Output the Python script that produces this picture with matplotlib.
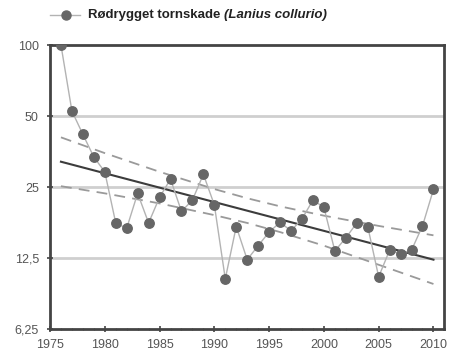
import matplotlib
matplotlib.use("Agg")
import matplotlib.pyplot as plt
from matplotlib.lines import Line2D
from matplotlib.ticker import FixedLocator, MultipleLocator

plt.rcParams["font.family"] = ["Liberation Sans", "DejaVu Sans"]

# ===============================
# Data
# ===============================
years = list(range(1976, 2011))
index = [100, 52.5, 41.8, 33.5, 29.0, 17.6, 16.7, 23.5, 17.6, 22.6,
         27.0, 19.7, 22.0, 28.3, 21.0, 10.2, 17.0, 12.3, 14.1, 16.1,
         17.7, 16.3, 18.3, 22.0, 20.5, 13.4, 15.2, 17.6, 17.0, 10.4,
         13.5, 13.0, 13.5, 17.1, 24.4]

trend_years = [1976, 2010]
trend_values = [32.0, 12.3]

band_years = [1976, 1980, 1985, 1990, 1993, 1996, 2000, 2005, 2010]
band_upper = [40.6, 34.8, 29.0, 24.5, 22.4, 20.7, 18.9, 17.1, 15.6]
band_lower = [25.2, 23.5, 21.3, 19.0, 17.6, 16.1, 14.1, 11.7, 9.7]

y_ticks = [6.25, 12.5, 25, 50, 100]
y_labels = ["6,25", "12,5", "25", "50", "100"]
x_ticks = [1975, 1980, 1985, 1990, 1995, 2000, 2005, 2010]

# ===============================
# Figure
# ===============================
fig = plt.figure(figsize=(4.52, 3.6), dpi=100)
ax = fig.add_axes([0.1106, 0.0861, 0.8714, 0.7889])

ax.set_yscale("log", base=2)
ax.set_ylim(6.25, 100)
ax.set_xlim(1975, 2010.95)

for v in [12.5, 25, 50]:
    ax.axhline(v, color="#cfcfcf", lw=2, zorder=1)

ax.plot(band_years, band_upper, color="#9a9a9a", lw=1.3, ls=(0, (6, 4)), zorder=2)
ax.plot(band_years, band_lower, color="#9a9a9a", lw=1.3, ls=(0, (6, 4)), zorder=2)
ax.plot(trend_years, trend_values, color="#3c3c3c", lw=1.5, zorder=3)

ax.plot(years, index, color="#b3b3b3", lw=1, marker="o", ms=6.8,
        mfc="#666666", mec="#666666", zorder=4)

ax.yaxis.set_major_locator(FixedLocator(y_ticks))
ax.yaxis.set_minor_locator(FixedLocator([]))
ax.set_yticklabels(y_labels)
ax.set_xticks(x_ticks)
ax.xaxis.set_minor_locator(MultipleLocator(1))

ax.tick_params(axis="both", which="major", labelsize=9, labelcolor="#555555",
               color="#444444", length=4, width=1.2, direction="inout")
ax.tick_params(axis="x", which="minor", length=2, width=0.8,
               color="#666666", direction="inout")
ax.tick_params(axis="x", pad=5)
ax.tick_params(axis="y", pad=6)

for sp in ax.spines.values():
    sp.set_color("#444444")
    sp.set_linewidth(2)

# ===============================
# Legend (drawn by hand)
# ===============================
fig.add_artist(Line2D([50 / 452, 80 / 452], [1 - 15 / 360, 1 - 15 / 360],
                      color="#b3b3b3", lw=1, marker=None,
                      transform=fig.transFigure))
fig.add_artist(Line2D([66 / 452], [1 - 15 / 360], color="#666666", marker="o",
                      ms=6.5, mfc="#666666", mec="#666666", ls="none",
                      transform=fig.transFigure))
t1 = fig.text(88 / 452, 1 - 15 / 360, "Rødrygget tornskade ", fontsize=9.5,
              fontweight="bold", color="#222222", va="center", ha="left")
fig.canvas.draw()
bb = t1.get_window_extent()
fig.text(bb.x1 / fig.bbox.width, 1 - 15 / 360, "(Lanius collurio)", fontsize=9.5,
         fontweight="bold", style="italic", color="#222222", va="center", ha="left")

fig.savefig("out.png", dpi=100)
